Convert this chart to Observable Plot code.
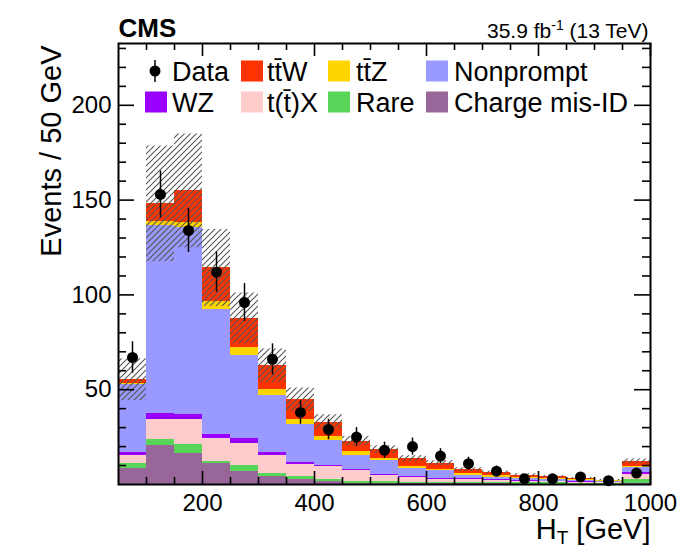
<!DOCTYPE html>
<html>
<head>
<meta charset="utf-8">
<script src="https://cdn.jsdelivr.net/npm/d3@7"></script>
<script src="https://cdn.jsdelivr.net/npm/@observablehq/plot@0.6"></script>
<style>
  html, body { margin: 0; padding: 0; background: #fff; }
  #chart { width: 681px; height: 549px; }
</style>
</head>
<body>
<div id="chart"></div>
<script>
// ---- Data ----
const binLow = [50,100,150,200,250,300,350,400,450,500,550,600,650,700,750,800,850,900,950];
const binWidth = 50;

const processes = ["Charge mis-ID", "Rare", "t(t\u0304)X", "WZ", "Nonprompt", "tt\u0304Z", "tt\u0304W"];
const processColors = ["#996699", "#58d458", "#ffcccc", "#9900ff", "#9999ff", "#ffd500", "#ff3300"];

const chargeMisID = [8.4,20.8,16.6,11.1,6.9,4.1,2.6,1.4,0.7,0.4,0.3,0.3,0.3,0.3,0.2,0.2,0.2,0.1,0.5];
const rare        = [2.5,2.8,4.7,1.0,3.0,1.5,1.6,1.1,1.1,1.0,0.7,0.6,0.9,0.7,0.6,0.6,0.5,0.4,2.3];
const ttX         = [4.3,10.6,12.9,12.2,11.7,9.9,6.4,7.0,5.6,3.6,2.8,1.9,1.4,1.2,1.0,0.8,0.6,0.5,2.7];
const wz          = [1.7,3.5,2.6,2.3,2.5,1.4,1.0,0.5,0.5,0.3,0.3,0.4,0.4,0.3,0.3,0.2,0.2,0.2,0.8];
const nonprompt   = [35.9,98.7,98.6,65.6,43.9,29.8,19.9,13.2,7.6,7.1,4.6,4.0,2.0,1.2,0.9,0.8,0.8,0.6,2.5];
const ttZ         = [0.7,2.3,2.9,4.3,4.2,3.5,3.0,2.1,1.8,1.2,0.8,0.9,0.6,0.9,0.7,0.4,0.2,0.2,0.8];
const ttW         = [1.8,9.3,16.6,17.7,15.4,12.5,10.2,7.6,5.6,4.7,4.1,3.2,2.2,1.7,1.3,1.1,0.7,0.3,2.6];
const bkgUnc      = [11,30.5,30,20.3,13.4,8.8,6.2,3.9,2.5,2.1,1.6,1.3,1.0,0.8,0.7,0.6,0.5,0.4,1.3];

const dataCounts  = [67,153,134,112,96,66,38,29,25,18,20,15,11,7,3,3,4,2,6];
const dataErr     = [8.3,12.4,11.6,10.6,10,8.2,6.2,5.4,5,4.3,4.5,3.9,3.4,2.7,1.8,1.8,2,1.5,2.4];

const xMajorTicks = [200,400,600,800,1000];
const xMinorTicks = [100,150,250,300,350,450,500,550,650,700,750,850,900,950];
const yMajorTicks = [50,100,150,200];
const yMinorTicks = [10,20,30,40,60,70,80,90,110,120,130,140,160,170,180,190,210,220,230];

const legendRow1 = ["Data", "tt\u0304W", "tt\u0304Z", "Nonprompt"];
const legendRow2 = ["WZ", "t(t\u0304)X", "Rare", "Charge mis-ID"];

// ---- Tables built from the arrays ----
const seriesValues = [chargeMisID, rare, ttX, wz, nonprompt, ttZ, ttW];
const stackRows = [];
const bandRows = [];
const dataRows = [];
binLow.forEach((lo, i) => {
  let cum = 0;
  processes.forEach((p, k) => {
    const v = seriesValues[k][i];
    stackRows.push({x1: lo, x2: lo + binWidth, y1: cum, y2: cum + v, proc: p});
    cum += v;
  });
  bandRows.push({x1: lo, x2: lo + binWidth, y1: cum - bkgUnc[i], y2: cum + bkgUnc[i]});
  dataRows.push({xc: lo + binWidth / 2, n: dataCounts[i], lo: dataCounts[i] - dataErr[i], hi: dataCounts[i] + dataErr[i]});
});

// ---- Layout ----
const W = 681, H = 549, mL = 118, mR = 31, mT = 43, mB = 65;
const FW = W - mL - mR, FH = H - mT - mB;
const FONT = "'Liberation Sans', Arial, Helvetica, sans-serif";
const LUMI = "35.9 fb-1 (13 TeV)";
const XTITLE = "H_T [GeV]";

const svg = Plot.plot({
  width: W, height: H,
  marginLeft: mL, marginRight: mR, marginTop: mT, marginBottom: mB,
  x: {domain: [50, 1000]},
  y: {domain: [0, 232.6]},
  color: {domain: processes, range: processColors},
  style: {fontFamily: FONT, background: "white", color: "black", overflow: "visible"},
  marks: [
    Plot.rect(stackRows, {x1: "x1", x2: "x2", y1: "y1", y2: "y2", fill: "proc", shapeRendering: "crispEdges"}),
    Plot.rect(bandRows, {x1: "x1", x2: "x2", y1: "y1", y2: "y2", fill: "url(#hatch)"}),
    Plot.ruleX(dataRows, {x: "xc", y1: "lo", y2: "hi", stroke: "black", strokeWidth: 1.5}),
    Plot.dot(dataRows, {x: "xc", y: "n", r: 5.5, fill: "black", stroke: "none"}),
    // inward ticks, all four sides
    Plot.tickX(xMajorTicks, {x: d => d, insetTop: FH - 13, strokeWidth: 1.6}),
    Plot.tickX(xMinorTicks, {x: d => d, insetTop: FH - 7, strokeWidth: 1.6}),
    Plot.tickX(xMajorTicks, {x: d => d, insetBottom: FH - 13, strokeWidth: 1.6}),
    Plot.tickX(xMinorTicks, {x: d => d, insetBottom: FH - 7, strokeWidth: 1.6}),
    Plot.tickY(yMajorTicks, {y: d => d, insetRight: FW - 16, strokeWidth: 1.6}),
    Plot.tickY(yMinorTicks, {y: d => d, insetRight: FW - 8, strokeWidth: 1.6}),
    Plot.tickY(yMajorTicks, {y: d => d, insetLeft: FW - 16, strokeWidth: 1.6}),
    Plot.tickY(yMinorTicks, {y: d => d, insetLeft: FW - 8, strokeWidth: 1.6}),
    Plot.axisX({ticks: xMajorTicks, tickSize: 0, tickPadding: 9, fontSize: 24, label: null, tickFormat: d => String(d)}),
    Plot.axisY({ticks: yMajorTicks, tickSize: 0, tickPadding: 7, fontSize: 24, label: null, tickFormat: d => String(d)}),
    Plot.frame({stroke: "black", strokeWidth: 2}),
    Plot.text(["CMS"], {text: d => d, frameAnchor: "top-left", textAnchor: "start", lineAnchor: "bottom", dy: -7, fontSize: 26, fontWeight: "bold"}),
    Plot.text([LUMI], {text: d => d, frameAnchor: "top-right", textAnchor: "end", lineAnchor: "bottom", dy: -6, dx: -2, fontSize: 21}),
    Plot.text(["Events / 50 GeV"], {text: d => d, frameAnchor: "top-left", textAnchor: "end", rotate: -90, dx: -78, dy: 2, fontSize: 29}),
    Plot.text([XTITLE], {text: d => d, frameAnchor: "bottom-right", textAnchor: "end", lineAnchor: "bottom", dy: 54, fontSize: 29})
  ]
});

// hatch pattern definition
const s = d3.select(svg);
const defs = s.insert("defs", ":first-child");
const pat = defs.append("pattern").attr("id", "hatch").attr("patternUnits", "userSpaceOnUse")
  .attr("width", 6).attr("height", 6);
pat.append("path").attr("d", "M0,6L6,0M-1.5,1.5L1.5,-1.5M4.5,7.5L7.5,4.5")
  .attr("stroke", "#555").attr("stroke-width", 1.1).attr("fill", "none");

// rich text: superscript and subscript
function findText(str) {
  return s.selectAll("text").filter(function () { return this.textContent === str; });
}
const lumi = findText(LUMI);
lumi.text(null);
lumi.append("tspan").text("35.9 fb");
lumi.append("tspan").attr("font-size", 14).attr("dy", -8).text("-1");
lumi.append("tspan").attr("dy", 8).text(" (13 TeV)");

const xt = findText(XTITLE);
xt.text(null);
xt.append("tspan").text("H");
xt.append("tspan").attr("font-size", 19).attr("dy", 5).text("T");
xt.append("tspan").attr("dy", -5).text(" [GeV]");

// legend (inside the frame)
const leg = s.append("g").attr("font-family", FONT).attr("font-size", 27).attr("text-anchor", "start");
const rowY = [71, 102];
const boxX = [[null, 241, 328, 426], [145, 241, 328, 426]];
const textX = [[172, 267, 356, 454], [172, 267, 356, 454]];
[legendRow1, legendRow2].forEach((row, r) => {
  row.forEach((label, c) => {
    const cy = rowY[r];
    if (label === "Data") {
      leg.append("line").attr("x1", 155).attr("x2", 155).attr("y1", cy - 11).attr("y2", cy + 11)
        .attr("stroke", "black").attr("stroke-width", 1.5);
      leg.append("circle").attr("cx", 155).attr("cy", cy).attr("r", 5.5).attr("fill", "black");
    } else {
      const col = processColors[processes.indexOf(label)];
      leg.append("rect").attr("x", boxX[r][c]).attr("y", cy - 10.5).attr("width", 22).attr("height", 21)
        .attr("fill", col);
    }
    leg.append("text").attr("x", textX[r][c]).attr("y", cy).attr("dy", "0.36em").attr("fill", "black")
      .attr("text-anchor", "start").text(label);
  });
});

document.getElementById("chart").appendChild(svg);
</script>
</body>
</html>
